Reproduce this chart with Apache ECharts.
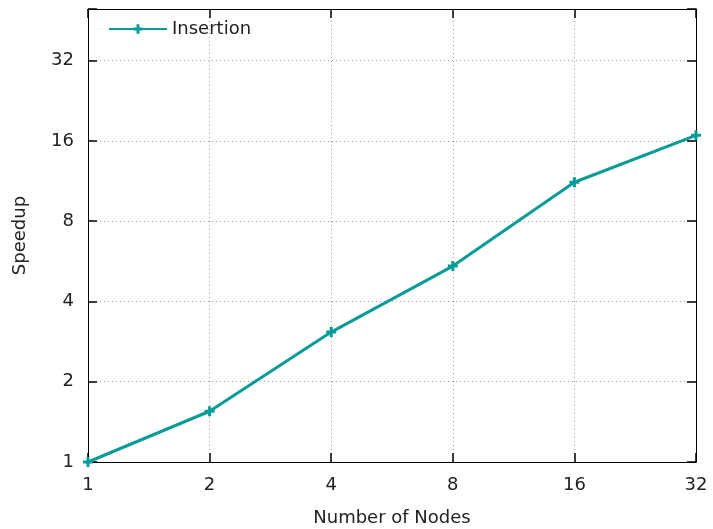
<!DOCTYPE html>
<html>
<head>
<meta charset="utf-8">
<script src="https://cdn.jsdelivr.net/npm/echarts@6/dist/echarts.min.js"></script>
<style>
html, body { margin: 0; padding: 0; background: #fff; }
#main { width: 713px; height: 529px; }
</style>
</head>
<body>
<div id="main"></div>
<script>
var nodes = [1, 2, 4, 8, 16, 32]
var speedup = [1, 1.55, 3.07, 5.43, 11.2, 16.8]
var seriesName = 'Insertion'

var myChart = echarts.init(document.getElementById('main'))

var font = 'DejaVu Sans'
var lineColor = '#089b98'

function pow2Label(v) {
    var e = Math.log2(v)
    if (Math.abs(e - Math.round(e)) < 1e-6) {
        return String(Math.round(v))
    }
    return ''
}

var gridLine = {
    show: true,
    lineStyle: { color: '#a0a0a0', type: [1, 3], width: 1 }
}
var tick = { show: true, inside: true, length: 9, lineStyle: { color: '#000', width: 1.5 } }

var option = {
    animation: false,
    textStyle: { fontFamily: font },
    grid: { left: 88, right: 17, top: 9, bottom: 67, outerBoundsMode: 'none', containLabel: false },
    legend: {
        left: 103,
        top: 15,
        itemWidth: 58,
        itemHeight: 12,
        itemGap: 10,
        textStyle: { fontFamily: font, fontSize: 18, color: '#222' },
        data: [seriesName]
    },
    xAxis: [
        {
            type: 'log',
            logBase: 2,
            min: 1,
            max: 32,
            interval: 1,
            name: 'Number of Nodes',
            nameLocation: 'middle',
            nameGap: 47,
            nameTextStyle: { fontFamily: font, fontSize: 18, color: '#222' },
            axisLine: { lineStyle: { color: '#000', width: 1 } },
            axisTick: tick,
            axisLabel: { formatter: pow2Label, margin: 14, fontFamily: font, fontSize: 18, color: '#222' },
            splitLine: gridLine
        },
        {
            type: 'log',
            logBase: 2,
            min: 1,
            max: 32,
            interval: 1,
            position: 'top',
            axisLine: { lineStyle: { color: '#000', width: 1 } },
            axisTick: tick,
            axisLabel: { show: false },
            splitLine: { show: false }
        }
    ],
    yAxis: [
        {
            type: 'log',
            logBase: 2,
            min: 1,
            max: 50,
            interval: 1,
            name: 'Speedup',
            nameLocation: 'middle',
            nameGap: 59,
            nameTextStyle: { fontFamily: font, fontSize: 18, color: '#222' },
            axisLine: { lineStyle: { color: '#000', width: 1 } },
            axisTick: tick,
            axisLabel: { formatter: pow2Label, margin: 14, fontFamily: font, fontSize: 18, color: '#222' },
            splitLine: gridLine
        },
        {
            type: 'log',
            logBase: 2,
            min: 1,
            max: 50,
            interval: 1,
            position: 'right',
            axisLine: { lineStyle: { color: '#000', width: 1 } },
            axisTick: tick,
            axisLabel: { show: false },
            splitLine: { show: false }
        }
    ],
    series: [
        {
            name: seriesName,
            type: 'line',
            data: nodes.map(function (n, i) { return [n, speedup[i]] }),
            symbol: 'path://M3.5,0H6.5V3.5H10V6.5H6.5V10H3.5V6.5H0V3.5H3.5Z',
            symbolSize: 10,
            lineStyle: { color: lineColor, width: 3 },
            itemStyle: { color: lineColor },
            clip: false
        }
    ]
}
myChart.setOption(option)
</script>
</body>
</html>
